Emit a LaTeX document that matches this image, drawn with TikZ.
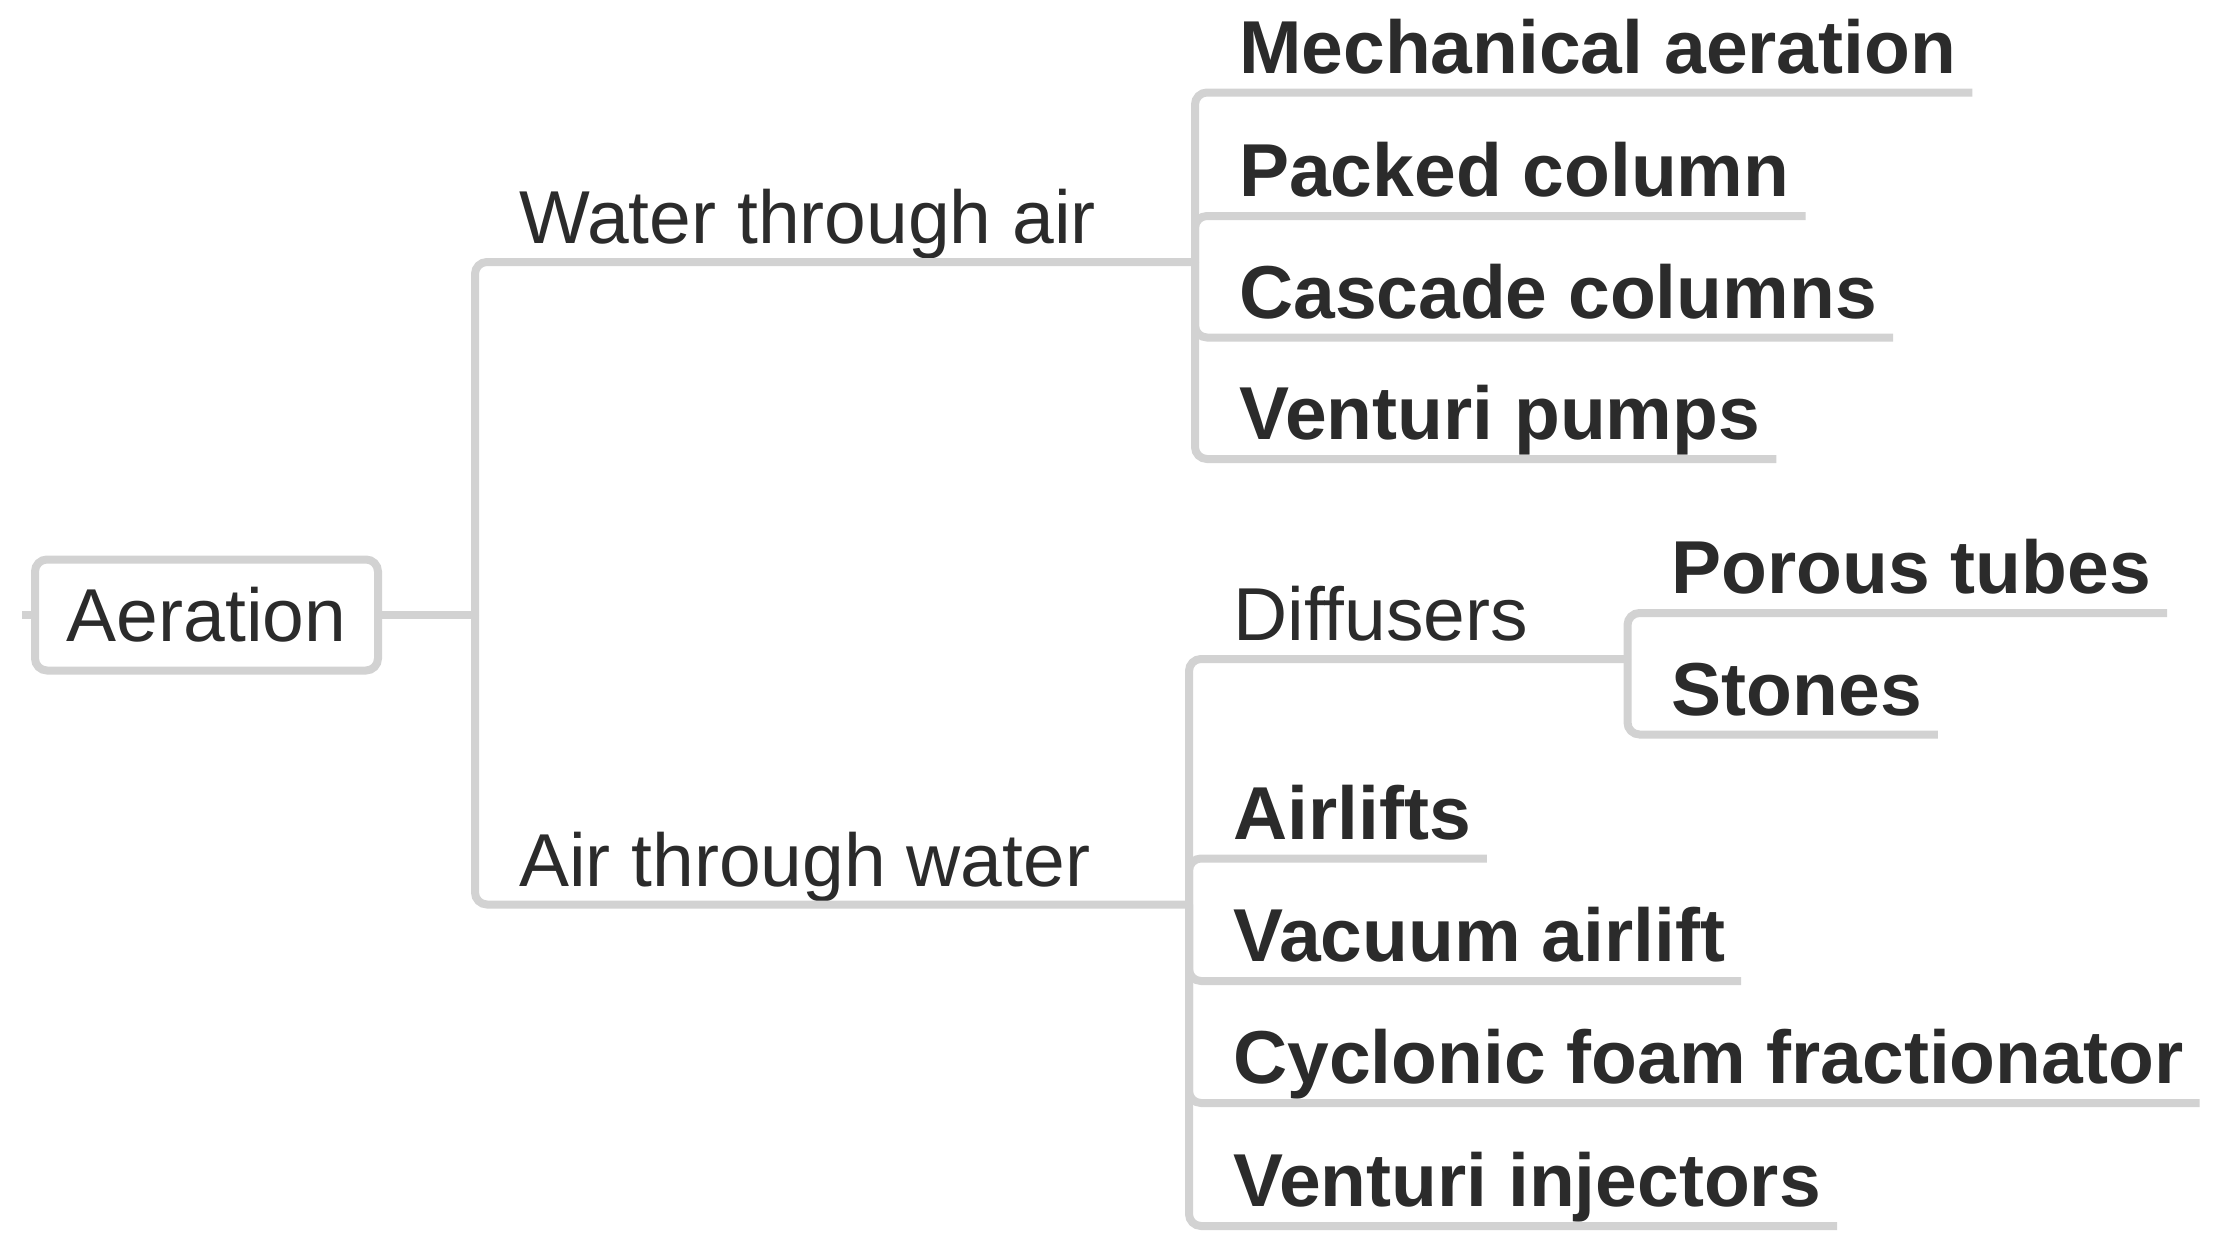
\documentclass[tikz,border=0pt]{standalone}
\usepackage{fontspec}
\setmainfont{Liberation Sans}
\definecolor{lineg}{RGB}{210,210,210}
\definecolor{txt}{RGB}{43,43,43}
\tikzset{
  conn/.style={draw=lineg, line width=8pt, rounded corners=12pt},
  lbl/.style={anchor=base west, inner sep=0pt, text=txt, font=\fontsize{75}{90}\selectfont},
  blbl/.style={anchor=base west, inner sep=0pt, text=txt, font=\fontsize{75}{90}\selectfont\bfseries},
  rootbox/.style={draw=lineg, line width=8pt, rounded corners=12pt, fill=white, text=txt,
    font=\fontsize{75}{90}\selectfont, minimum width=343pt, minimum height=111pt, inner sep=0pt},
}
\begin{document}
\begin{tikzpicture}[x=1pt,y=-1pt]
\useasboundingbox[fill=white] (0,0) rectangle (2221,1250);

% root
\node[rootbox] (root) at (206.5,615) {Aeration};
\coordinate (stub) at (22,615);
\coordinate (J0) at (475,615);
\draw[conn] (root.west) -- (stub);
\draw[conn] (root.east) -- (J0);

% level 1
\coordinate (J1) at (1195,262);
\coordinate (J2) at (1189,904.5);
\node[lbl] (water) at (519,243) {Water through air};
\node[lbl] (air) at (519,886) {Air through water};
\draw[conn] (J0) |- (J1);
\draw[conn] (J0) |- (J2);

% water children
\node[blbl] (mech) at (1239,73) {Mechanical aeration};
\node[blbl] (packed) at (1239,196.5) {Packed column};
\node[blbl] (cascade) at (1239,318) {Cascade columns};
\node[blbl] (vpumps) at (1239,439.5) {Venturi pumps};
\foreach \n in {mech,packed,cascade,vpumps}
  \draw[conn] (J1) |- ([shift={(16,19.5)}]\n.base east);

% air children
\coordinate (J3) at (1627.5,659);
\node[lbl] (diff) at (1233,640) {Diffusers};
\draw[conn] (J2) |- (J3);
\node[blbl] (airlifts) at (1233,839) {Airlifts};
\node[blbl] (vacuum) at (1233,961.5) {Vacuum airlift};
\node[blbl] (cyclonic) at (1233,1083.5) {Cyclonic foam fractionator};
\node[blbl] (vinj) at (1233,1206.5) {Venturi injectors};
\foreach \n in {airlifts,vacuum,cyclonic,vinj}
  \draw[conn] (J2) |- ([shift={(16,19.5)}]\n.base east);

% diffusers children
\node[blbl] (porous) at (1671.5,593.5) {Porous tubes};
\node[blbl] (stones) at (1671.5,715) {Stones};
\foreach \n in {porous,stones}
  \draw[conn] (J3) |- ([shift={(16,19.5)}]\n.base east);
\end{tikzpicture}
\end{document}
